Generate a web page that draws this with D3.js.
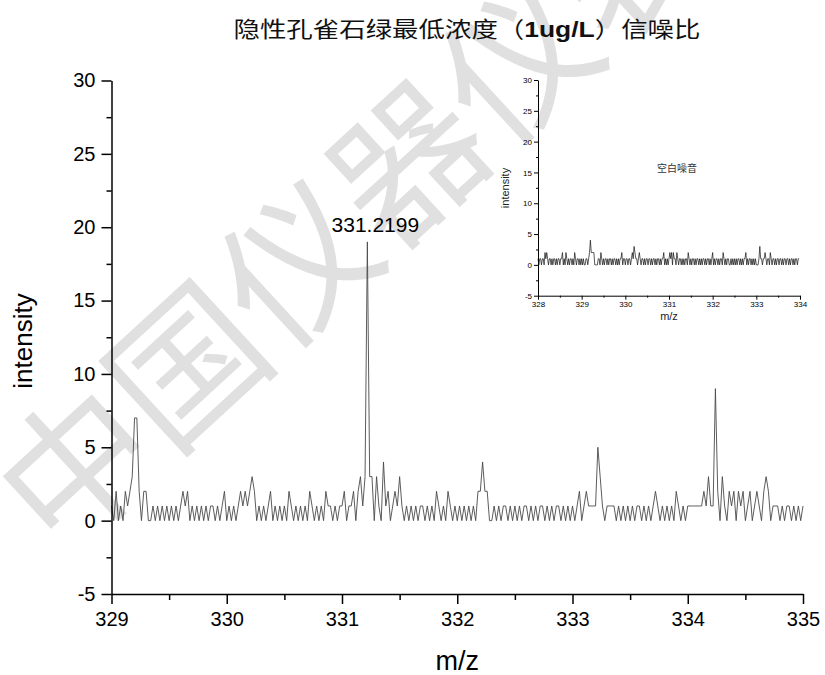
<!DOCTYPE html>
<html>
<head>
<meta charset="utf-8">
<script src="https://cdn.jsdelivr.net/npm/d3@7"></script>
<style>
  body { margin: 0; background: #fff; }
  svg { display: block; font-family: "Liberation Sans", Arial, sans-serif; }
</style>
</head>
<body>
<svg id="chart" width="825" height="675"></svg>
<script>
// --- data ---
const chartTitle = "隐性孔雀石绿最低浓度（";
const chartTitleUnit = "1ug/L";
const chartTitleEnd = "）信噪比";
const peakLabel = "331.2199";
const peakMz = 331.22;
const peakValue = 19;

const mainXTicks = [329, 330, 331, 332, 333, 334, 335];
const mainXMinor = [329.5, 330.5, 331.5, 332.5, 333.5, 334.5];
const yTicks = [-5, 0, 5, 10, 15, 20, 25, 30];
const yMinor = [-2.5, 2.5, 7.5, 12.5, 17.5, 22.5, 27.5];

// main trace: m/z 329.00 .. 335.00, one reading every 0.02
const mainStart = 329, mainStep = 0.02;
const mainIntensity = [
  1,0,2,0,1,0,2,1,2,3,7,7,2,0,2,2,0,0,1,0,1,0,1,0,1,
  0,1,0,1,0,1,2,1,2,0,1,0,1,0,1,0,1,0,1,1,0,1,0,1,2,
  0,1,0,1,0,1,2,1,2,1,2,3,2,0,1,0,1,0,1,2,0,1,0,1,0,
  1,0,2,1,0,1,0,1,0,1,0,2,1,0,1,0,1,0,2,1,1,0,1,0,1,
  1,2,0,1,1,2,0,2,3,1,3,19,3,3,0,3,1,0,4,1,2,0,1,2,1,
  3,1,0,1,0,1,0,1,0,1,1,0,1,0,1,0,2,1,0,1,0,2,1,0,1,
  0,1,0,1,0,1,0,1,0,2,2,4,2,2,0,0,1,0,1,0,1,1,0,1,0,
  1,0,1,0,1,1,0,1,0,1,0,1,1,0,1,0,1,0,1,1,0,1,0,1,0,
  1,0,1,2,0,1,2,1,1,1,1,5,3,1,0,1,1,1,1,0,1,0,1,0,1,
  0,1,0,1,1,0,1,0,1,0,1,2,1,0,1,0,1,0,1,0,2,1,0,1,0,
  1,1,1,1,1,1,1,2,1,3,1,1,9,2,0,3,1,0,2,1,2,0,2,1,2,
  0,1,2,0,1,2,1,0,2,3,2,0,1,1,1,0,1,0,1,1,0,1,0,1,0,
  1
];

// inset (blank noise): m/z 328.00 .. 333.98, one reading every 0.02
const insetTitle = "空白噪音";
const insetXTicks = [328, 329, 330, 331, 332, 333, 334];
const insetXMinor = [328.5, 329.5, 330.5, 331.5, 332.5, 333.5];
const insetStart = 328, insetStep = 0.02;
const insetIntensity = [
  1,0,1,1,0,1,1,0,2,1,2,1,0,1,1,0,1,0,1,1,0,1,0,1,1,
  0,1,1,2,0,1,0,2,1,0,1,0,1,1,0,1,0,2,1,0,1,1,0,1,0,
  1,0,1,0,0,1,1,0,1,2,4,2,2,2,2,0,0,0,0,1,1,0,2,1,0,
  1,0,1,1,0,1,0,1,1,0,1,0,1,1,0,1,0,1,0,1,1,2,0,1,1,
  0,1,1,0,1,1,0,1,2,1,3,2,1,1,0,1,2,1,0,1,1,0,1,0,1,
  1,0,1,1,0,1,0,1,1,0,1,0,1,1,0,1,0,1,1,2,0,1,0,1,0,
  1,2,1,2,0,2,1,1,0,2,1,0,1,1,0,1,0,1,0,1,1,0,2,1,0,
  1,0,1,1,0,1,0,1,1,0,1,0,1,0,1,1,0,1,0,1,1,0,1,0,1,
  2,0,1,0,1,1,0,1,0,1,1,0,2,1,0,1,0,1,1,0,0,1,0,1,0,
  1,0,1,0,1,1,0,1,0,1,0,1,1,2,0,1,0,1,1,0,1,0,1,0,1,
  0,0,0,1,3,1,1,0,1,1,2,1,0,1,1,0,2,1,0,1,1,0,1,0,1,
  1,0,1,1,0,1,0,1,1,0,1,1,0,1,0,1,1,0,1,0,1,1,0,1,1
];

const watermark = "中国仪器仪表网";

const svg = d3.select("#chart");
const fmt = d => String(d);

// watermark behind everything
svg.append("text")
  .attr("transform", "translate(70,460) rotate(-42.6)")
  .attr("x", -75)
  .attr("dominant-baseline", "central")
  .style("font-family", "'Noto Sans CJK SC', sans-serif")
  .style("font-size", "150px")
  .attr("fill", "#e0e0e0")
  .text(watermark);

// title
const title = svg.append("text")
  .attr("x", 467).attr("y", 37)
  .attr("text-anchor", "middle")
  .attr("textLength", 467)
  .attr("lengthAdjust", "spacingAndGlyphs")
  .style("font-family", "'Noto Sans CJK SC', sans-serif")
  .style("font-size", "22px")
  .attr("fill", "#111");
title.append("tspan").text(chartTitle);
title.append("tspan")
  .style("font-family", "'Liberation Sans', Arial, sans-serif")
  .style("font-weight", "bold")
  .text(chartTitleUnit);
title.append("tspan").text(chartTitleEnd);

// ---------- main plot ----------
const x = d3.scaleLinear().domain([329, 335]).range([111.5, 803]);
const y = d3.scaleLinear().domain([-5, 30]).range([594, 80.5]);

const line = d3.line()
  .x((d, i) => x(mainStart + i * mainStep))
  .y(d => y(d));

svg.append("path")
  .datum(mainIntensity)
  .attr("fill", "none")
  .attr("stroke", "#4a4a4a")
  .attr("stroke-width", 0.9)
  .attr("d", line);

function styleAxis(g, size, width) {
  g.select(".domain").attr("stroke-width", width);
  g.selectAll(".tick line").attr("stroke-width", width);
  g.selectAll(".tick text").style("font-size", size).attr("fill", "#000");
}

svg.append("g")
  .attr("transform", `translate(0,${y(-5)})`)
  .call(d3.axisBottom(x).tickValues(mainXTicks).tickFormat(fmt)
    .tickSize(10).tickPadding(8).tickSizeOuter(0))
  .call(g => styleAxis(g, "20px", 1.5));
svg.append("g")
  .attr("transform", `translate(0,${y(-5)})`)
  .call(d3.axisBottom(x).tickValues(mainXMinor).tickFormat("").tickSize(6))
  .call(g => { g.select(".domain").remove(); g.selectAll("line").attr("stroke-width", 1.5); });

svg.append("g")
  .attr("transform", `translate(${x(329)},0)`)
  .call(d3.axisLeft(y).tickValues(yTicks).tickFormat(fmt)
    .tickSize(10).tickPadding(6).tickSizeOuter(0))
  .call(g => styleAxis(g, "20px", 1.5));
svg.append("g")
  .attr("transform", `translate(${x(329)},0)`)
  .call(d3.axisLeft(y).tickValues(yMinor).tickFormat("").tickSize(5))
  .call(g => { g.select(".domain").remove(); g.selectAll("line").attr("stroke-width", 1.5); });

svg.append("text")
  .attr("transform", `translate(32,341) rotate(-90)`)
  .attr("text-anchor", "middle")
  .style("font-size", "26px")
  .text("intensity");

svg.append("text")
  .attr("x", (x(329) + x(335)) / 2).attr("y", 670)
  .attr("text-anchor", "middle")
  .style("font-size", "27px")
  .text("m/z");

svg.append("text")
  .attr("x", x(peakMz) + 8).attr("y", y(peakValue) - 10)
  .attr("text-anchor", "middle")
  .style("font-size", "21px")
  .text(peakLabel);

// ---------- inset ----------
const ix = d3.scaleLinear().domain([328, 334]).range([538, 800]);
const iy = d3.scaleLinear().domain([-5, 30]).range([295.7, 80]);

svg.append("path")
  .datum(insetIntensity)
  .attr("fill", "none")
  .attr("stroke", "#111")
  .attr("stroke-width", 0.7)
  .attr("d", d3.line()
    .x((d, i) => ix(insetStart + i * insetStep))
    .y(d => iy(d)));

svg.append("g")
  .attr("transform", `translate(0,${iy(-5)})`)
  .call(d3.axisBottom(ix).tickValues(insetXTicks).tickFormat(fmt)
    .tickSize(4).tickPadding(2).tickSizeOuter(0))
  .call(g => styleAxis(g, "8px", 1));
svg.append("g")
  .attr("transform", `translate(0,${iy(-5)})`)
  .call(d3.axisBottom(ix).tickValues(insetXMinor).tickFormat("").tickSize(2))
  .call(g => g.select(".domain").remove());

svg.append("g")
  .attr("transform", `translate(${ix(328)},0)`)
  .call(d3.axisLeft(iy).tickValues(yTicks).tickFormat(fmt)
    .tickSize(4).tickPadding(2).tickSizeOuter(0))
  .call(g => styleAxis(g, "8px", 1));
svg.append("g")
  .attr("transform", `translate(${ix(328)},0)`)
  .call(d3.axisLeft(iy).tickValues(yMinor).tickFormat("").tickSize(2))
  .call(g => g.select(".domain").remove());

svg.append("text")
  .attr("transform", `translate(509,188) rotate(-90)`)
  .attr("text-anchor", "middle")
  .style("font-size", "11px")
  .attr("fill", "#222")
  .text("intensity");

svg.append("text")
  .attr("x", (ix(328) + ix(334)) / 2).attr("y", 320)
  .attr("text-anchor", "middle")
  .style("font-size", "11px")
  .attr("fill", "#222")
  .text("m/z");

svg.append("text")
  .attr("x", 677).attr("y", 172)
  .attr("text-anchor", "middle")
  .style("font-family", "'Noto Sans CJK SC', sans-serif")
  .style("font-size", "10px")
  .attr("fill", "#333")
  .text(insetTitle);
</script>
</body>
</html>
